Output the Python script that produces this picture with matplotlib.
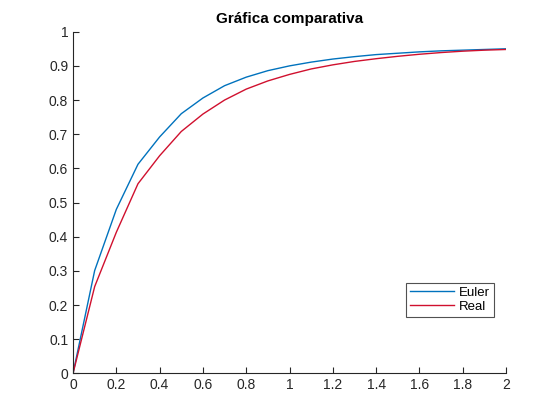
import matplotlib
matplotlib.use("Agg")
import matplotlib.pyplot as plt
import numpy as np

t = [0.0, 0.1, 0.2, 0.3, 0.4, 0.5, 0.6, 0.7, 0.8, 0.9, 1.0,
     1.1, 1.2, 1.3, 1.4, 1.5, 1.6, 1.7, 1.8, 1.9, 2.0]
euler = [0.0, 0.301, 0.480, 0.612, 0.692, 0.760, 0.806, 0.842, 0.867, 0.886, 0.900,
         0.911, 0.920, 0.927, 0.933, 0.937, 0.941, 0.944, 0.946, 0.948, 0.950]
real = [0.0, 0.254, 0.413, 0.555, 0.637, 0.708, 0.759, 0.800, 0.832, 0.856, 0.875,
        0.891, 0.903, 0.913, 0.921, 0.928, 0.934, 0.939, 0.943, 0.946, 0.948]
xticks = [0, 0.2, 0.4, 0.6, 0.8, 1, 1.2, 1.4, 1.6, 1.8, 2]
xticklabels = ["0", "0.2", "0.4", "0.6", "0.8", "1", "1.2", "1.4", "1.6", "1.8", "2"]
yticks = [0, 0.1, 0.2, 0.3, 0.4, 0.5, 0.6, 0.7, 0.8, 0.9, 1]
yticklabels = ["0", "0.1", "0.2", "0.3", "0.4", "0.5", "0.6", "0.7", "0.8", "0.9", "1"]

plt.rcParams['font.family'] = ['Liberation Sans', 'DejaVu Sans']
fig = plt.figure(figsize=(5.6, 4.2), dpi=100)
ax = fig.add_axes([0.1304, 0.111, 0.7732, 0.8135])
ax.plot(t, euler, color='#0072BD', lw=1.0, label='Euler')
ax.plot(t, real, color='#D0102E', lw=1.0, label='Real')
ax.set_xlim(0, 2)
ax.set_ylim(0, 1)
ax.set_xticks(xticks)
ax.set_xticklabels(xticklabels)
ax.set_yticks(yticks)
ax.set_yticklabels(yticklabels)
for s in ['top', 'right']:
    ax.spines[s].set_visible(False)
for s in ['left', 'bottom']:
    ax.spines[s].set_color('#262626')
    ax.spines[s].set_linewidth(0.8)
ax.tick_params(direction='in', length=4, width=0.8, colors='#262626',
               labelsize=10, labelcolor='#262626')
ax.set_title('Gráfica comparativa', fontsize=11, fontweight='bold', pad=6)
leg = ax.legend(loc='lower right', bbox_to_anchor=(0.972, 0.165), fontsize=9.5,
                frameon=True, fancybox=False, edgecolor='#262626',
                handlelength=3.3, handletextpad=0.4, borderpad=0.3,
                labelspacing=0.15, borderaxespad=0)
leg.get_frame().set_linewidth(0.8)
fig.savefig('out.png', dpi=100)
